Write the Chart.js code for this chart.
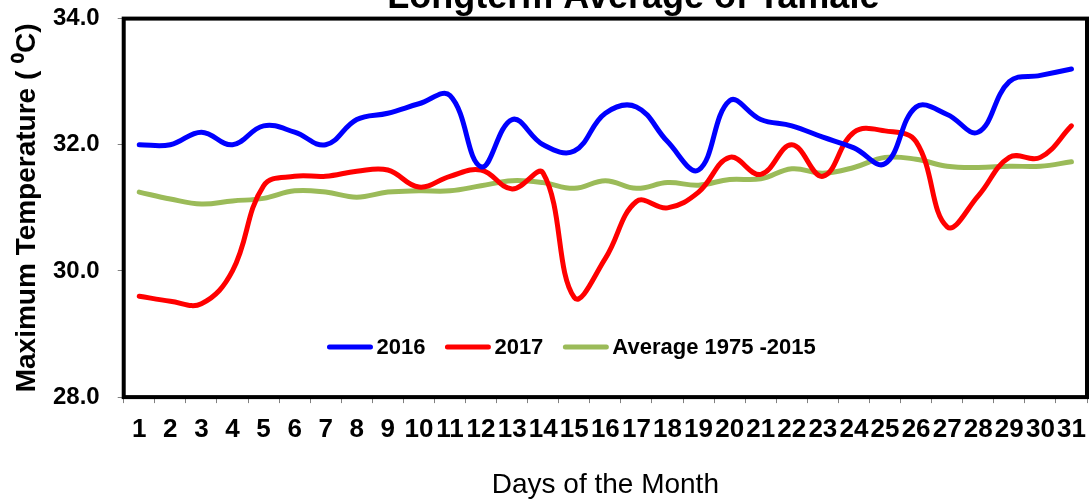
<!DOCTYPE html>
<html>
<head>
<meta charset="utf-8">
<script src="https://cdn.jsdelivr.net/npm/chart.js@4.4.0/dist/chart.umd.min.js"></script>
<style>
html,body{margin:0;padding:0;background:#fff;overflow:hidden}
#wrap{width:1090px;height:504px;position:relative}
</style>
</head>
<body>
<div id="wrap"><canvas id="c" width="1090" height="504"></canvas></div>
<script>
const chartTitle = 'Longterm Average of Tamale';
const xTitle = 'Days of the Month';
const yTitle = 'Maximum Temperature ( \u2070C)';
const days = ['1','2','3','4','5','6','7','8','9','10','11','12','13','14','15','16','17','18','19','20','21','22','23','24','25','26','27','28','29','30','31'];
const seriesNames = ['2016', '2017', 'Average 1975 -2015'];
const series2016 = [32.0,32.0,32.2,32.0,32.3,32.2,32.0,32.4,32.5,32.65,32.78,31.65,32.4,32.0,31.9,32.5,32.6,32.05,31.6,32.7,32.4,32.3,32.12,31.95,31.7,32.6,32.48,32.2,33.0,33.1,33.2];
const series2017 = [29.6,29.52,29.48,30.0,31.35,31.5,31.5,31.58,31.6,31.33,31.5,31.6,31.3,31.55,29.58,30.2,31.1,31.0,31.25,31.8,31.53,32.0,31.5,32.2,32.22,32.05,30.7,31.19,31.8,31.8,32.3];
const seriesAvg = [31.25,31.14,31.06,31.11,31.15,31.27,31.25,31.17,31.25,31.27,31.27,31.35,31.43,31.4,31.31,31.43,31.31,31.4,31.36,31.45,31.46,31.62,31.55,31.64,31.8,31.77,31.66,31.64,31.66,31.66,31.73];
const yTicks = [28, 30, 32, 34];

const FONT = "'Liberation Sans', Arial, sans-serif";
Chart.defaults.font.family = FONT;
Chart.defaults.color = '#000';

const framePlugin = {
  id: 'frame',
  afterLayout(chart) {
    const t = chart.titleBlock;
    if (t) {
      const a = chart.chartArea;
      const dx = (a.left + a.right) / 2 + 28 - (t.left + t.right) / 2;
      t.left += dx; t.right += dx;
    }
  },
  afterDatasetsDraw(chart) {
    const {ctx, chartArea: a} = chart;
    ctx.save();
    ctx.strokeStyle = '#000';
    ctx.lineWidth = 4;
    ctx.strokeRect(a.left, a.top, a.right - a.left, a.bottom - a.top);
    ctx.restore();
  }
};

const insideLegend = {
  id: 'insideLegend',
  afterDraw(chart) {
    const {ctx, chartArea: a} = chart;
    ctx.save();
    ctx.font = 'bold 22px ' + FONT;
    const lineW = 45, gap = 4, itemGap = 20;
    const items = chart.data.datasets.map(d => ({label: d.label, color: d.borderColor, w: ctx.measureText(d.label).width}));
    const total = items.reduce((s, it) => s + lineW + gap + it.w, 0) + itemGap * (items.length - 1);
    let x = a.left + (a.right - a.left) * 0.465 - total / 2;
    const y = a.bottom - 50;
    items.forEach(it => {
      ctx.strokeStyle = it.color;
      ctx.lineWidth = 5;
      ctx.lineCap = 'round';
      ctx.beginPath();
      ctx.moveTo(x + 2, y);
      ctx.lineTo(x + lineW - 2, y);
      ctx.stroke();
      ctx.fillStyle = '#000';
      ctx.textBaseline = 'middle';
      ctx.textAlign = 'left';
      ctx.fillText(it.label, x + lineW + gap, y + 1);
      x += lineW + gap + it.w + itemGap;
    });
    ctx.restore();
  }
};

const lineStyle = (color) => ({
  borderColor: color,
  backgroundColor: color,
  borderWidth: 5,
  pointRadius: 0,
  pointHoverRadius: 0,
  tension: 0.4,
  borderCapStyle: 'round',
  borderJoinStyle: 'round',
  fill: false
});

new Chart(document.getElementById('c'), {
  type: 'line',
  data: {
    labels: days,
    datasets: [
      Object.assign({label: seriesNames[0], data: series2016}, lineStyle('#0000FF')),
      Object.assign({label: seriesNames[1], data: series2017}, lineStyle('#FF0000')),
      Object.assign({label: seriesNames[2], data: seriesAvg}, lineStyle('#9BBB59'))
    ]
  },
  options: {
    responsive: false,
    animation: false,
    events: [],
    layout: {padding: {left: 8, right: 3, top: 0, bottom: 0}},
    plugins: {
      legend: {display: false},
      tooltip: {enabled: false},
      title: {
        display: true,
        text: chartTitle,
        color: '#000',
        font: {size: 36, weight: 'bold', family: FONT, lineHeight: 1.2},
        padding: {top: -24, bottom: -1}
      }
    },
    scales: {
      x: {
        type: 'category',
        offset: true,
        grid: {offset: true, drawOnChartArea: false, drawTicks: true, tickLength: 6, color: '#808080', lineWidth: 1},
        border: {display: false},
        ticks: {autoSkip: false, maxRotation: 0, minRotation: 0, padding: 3, color: '#000', font: {size: 26, weight: 'bold', family: FONT, lineHeight: 1.85}},
        title: {display: true, text: xTitle, color: '#000', font: {size: 28, family: FONT, lineHeight: 1.1}, padding: {top: 13, bottom: 3}}
      },
      y: {
        min: 28,
        max: 34,
        afterBuildTicks(scale) { scale.ticks = yTicks.map(v => ({value: v})); },
        grid: {drawOnChartArea: false, drawTicks: true, tickLength: 6, color: '#808080', lineWidth: 1},
        border: {display: false},
        ticks: {padding: 18, color: '#000', font: {size: 24, weight: 'bold', family: FONT, lineHeight: 0.05}, callback: v => Number(v).toFixed(1)},
        title: {display: true, text: yTitle, color: '#000', font: {size: 28, weight: 'bold', family: FONT, lineHeight: 1.1}, padding: {top: 3.6, bottom: -7.4}}
      }
    }
  },
  plugins: [framePlugin, insideLegend]
});
</script>
</body>
</html>
